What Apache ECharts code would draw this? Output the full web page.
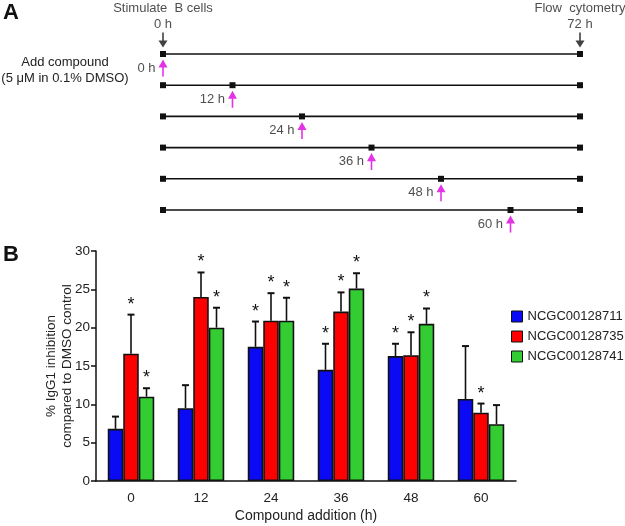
<!DOCTYPE html>
<html>
<head>
<meta charset="utf-8">
<script src="https://cdn.jsdelivr.net/npm/echarts@6/dist/echarts.min.js"></script>
<style>html,body{margin:0;padding:0;background:#fff}#c{width:625px;height:526px}</style>
</head>
<body>
<div id="c"></div>
<script>
// ---- Panel B data ----
const categories = ['0', '12', '24', '36', '48', '60'];
const seriesNames = ['NCGC00128711', 'NCGC00128735', 'NCGC00128741'];
const vals711 = [6.8, 9.5, 17.5, 14.5, 16.3, 10.7];
const err711  = [1.6, 3.0, 3.3, 3.4, 1.6, 6.9];
const sig711  = [0, 0, 1, 1, 1, 0];
const vals735 = [16.6, 24.0, 20.9, 22.1, 16.4, 8.9];
const err735  = [5.1, 3.2, 3.6, 2.5, 3.0, 1.2];
const sig735  = [1, 1, 1, 1, 1, 1];
const vals741 = [11.0, 20.0, 20.9, 25.1, 20.5, 7.4];
const err741  = [1.1, 2.6, 3.0, 2.0, 2.0, 2.5];
const sig741  = [1, 1, 1, 1, 1, 0];
const yTicks = [0, 5, 10, 15, 20, 25, 30];

// ---- Panel A data ----
const addTimes = [0, 12, 24, 36, 48, 60];
const addLabels = ['0 h', '12 h', '24 h', '36 h', '48 h', '60 h'];
const startTime = 0, endTime = 72;

const colors = ['#0a0af5', '#ff0000', '#33cc33'];
const txt = '#222';
const FONT = 'Liberation Sans, Arial, sans-serif';
const BW = 15.5;

const chart = echarts.init(document.getElementById('c'), null, {renderer: 'canvas'});

const vals = [vals711, vals735, vals741];
const errs = [err711, err735, err741];
const sigs = [sig711, sig735, sig741];

const barSeries = vals.map((v, k) => ({
  type: 'bar', name: seriesNames[k], xAxisIndex: 0, yAxisIndex: 0,
  data: v, barWidth: BW, barGap: '0%',
  itemStyle: {color: colors[k], borderColor: '#111', borderWidth: 1.6},
  z: 3
}));

const errSeries = vals.map((v, k) => ({
  type: 'custom', name: 'err' + k, xAxisIndex: 0, yAxisIndex: 0,
  data: v.map((val, i) => [i, val, errs[k][i], sigs[k][i]]),
  encode: {x: 0, y: 1},
  z: 2,
  renderItem: function (params, api) {
    const i = api.value(0), val = api.value(1), e = api.value(2), s = api.value(3);
    const b = api.coord([i, val]);
    const t = api.coord([i, val + e]);
    const x = b[0] + (k - 1) * BW;
    const children = [
      {type: 'line', shape: {x1: x, y1: b[1], x2: x, y2: t[1]}, style: {stroke: '#111', lineWidth: 1.6}},
      {type: 'line', shape: {x1: x - 3.5, y1: t[1], x2: x + 3.5, y2: t[1]}, style: {stroke: '#111', lineWidth: 2}}
    ];
    if (s) {
      children.push({type: 'text', style: {text: '*', x: x, y: t[1] - 1, textAlign: 'center', textVerticalAlign: 'bottom', fontSize: 18, fontFamily: FONT, fill: '#111'}});
    }
    return {type: 'group', children: children};
  }
}));

// Panel A series
const rowSeries = addTimes.map((t, r) => ({
  type: 'line', xAxisIndex: 1, yAxisIndex: 1,
  data: (t === startTime ? [[startTime, r], [endTime, r]] : [[startTime, r], [t, r], [endTime, r]]),
  symbol: 'rect', symbolSize: 6, showAllSymbol: true,
  lineStyle: {color: '#111', width: 1.6}, itemStyle: {color: '#111'},
  clip: false, silent: true, z: 2
}));

const upArrow = 'path://M4.5,0 L9,9 L5.3,9 L5.3,19 L3.7,19 L3.7,9 L0,9 Z';
const downArrow = 'path://M3.7,0 L5.3,0 L5.3,10 L9,10 L4.5,19 L0,10 L3.7,10 Z';

const arrowSeries = {
  type: 'scatter', xAxisIndex: 1, yAxisIndex: 1,
  data: addTimes.map((t, r) => [t, r]),
  symbol: upArrow, symbolSize: [9, 17], symbolOffset: [0, 14],
  itemStyle: {color: '#dd00dd'},
  label: {show: true, position: 'left', distance: 3, color: txt, fontSize: 13, fontFamily: FONT,
    formatter: p => addLabels[p.dataIndex]},
  clip: false, silent: true, z: 3
};

const markerSeries = {
  type: 'scatter', xAxisIndex: 1, yAxisIndex: 1,
  data: [[startTime, 0], [endTime, 0]],
  symbol: downArrow, symbolSize: [9, 15], symbolOffset: [0, -14],
  itemStyle: {color: '#111'},
  label: {show: true, position: 'top', distance: 0, color: txt, fontSize: 13, fontFamily: FONT, lineHeight: 16,
    formatter: p => p.dataIndex === 0 ? 'Stimulate  B cells\n0 h' : 'Flow  cytometry\n72 h'},
  clip: false, silent: true, z: 3
};

chart.setOption({
  animation: false,
  backgroundColor: '#fff',
  textStyle: {fontFamily: FONT},
  grid: [
    {left: 96, right: 109, top: 251, bottom: 45},
    {left: 163, width: 417, top: 54, height: 156}
  ],
  xAxis: [
    {type: 'category', gridIndex: 0, data: categories, boundaryGap: true,
      axisLine: {lineStyle: {color: '#111', width: 1.5}},
      axisTick: {length: 5, lineStyle: {color: '#111', width: 1.5}},
      axisLabel: {color: txt, fontSize: 13.5, margin: 10, fontFamily: FONT},
      name: 'Compound addition (h)', nameLocation: 'middle', nameGap: 28,
      nameTextStyle: {color: txt, fontSize: 14, fontFamily: FONT}},
    {type: 'value', gridIndex: 1, min: startTime, max: endTime, show: false}
  ],
  yAxis: [
    {type: 'value', gridIndex: 0, min: yTicks[0], max: yTicks[yTicks.length - 1], interval: 5,
      axisLine: {show: true, lineStyle: {color: '#111', width: 1.5}},
      axisTick: {show: true, length: 5, lineStyle: {color: '#111', width: 1.5}},
      splitLine: {show: false},
      axisLabel: {color: txt, fontSize: 13.5, margin: 6, fontFamily: FONT},
      name: '% IgG1 inhibition\ncompared to DMSO control', nameLocation: 'middle', nameGap: 21,
      nameMoveOverlap: false,
      nameTextStyle: {color: txt, fontSize: 13.5, lineHeight: 16, fontFamily: FONT}},
    {type: 'value', gridIndex: 1, min: 0, max: 5, inverse: true, show: false}
  ],
  legend: {
    orient: 'vertical', left: 506, top: 305, itemWidth: 11, itemHeight: 11, itemGap: 7, icon: 'rect',
    data: seriesNames, textStyle: {color: txt, fontSize: 13, fontFamily: FONT}, itemStyle: {borderColor: '#111', borderWidth: 1}
  },
  graphic: [
    {type: 'text', left: 3, top: 2, style: {text: 'A', fontSize: 22, fontWeight: 'bold', fill: '#111', fontFamily: FONT}},
    {type: 'text', left: 3, top: 244, style: {text: 'B', fontSize: 22, fontWeight: 'bold', fill: '#111', fontFamily: FONT}},
    {type: 'text', x: 65, y: 54, style: {text: 'Add compound\n(5 \u03bcM in 0.1% DMSO)', textAlign: 'center', fontSize: 13, lineHeight: 16, fill: txt, fontFamily: FONT}}
  ],
  series: [].concat(barSeries, errSeries, rowSeries, [arrowSeries, markerSeries])
});
</script>
</body>
</html>
